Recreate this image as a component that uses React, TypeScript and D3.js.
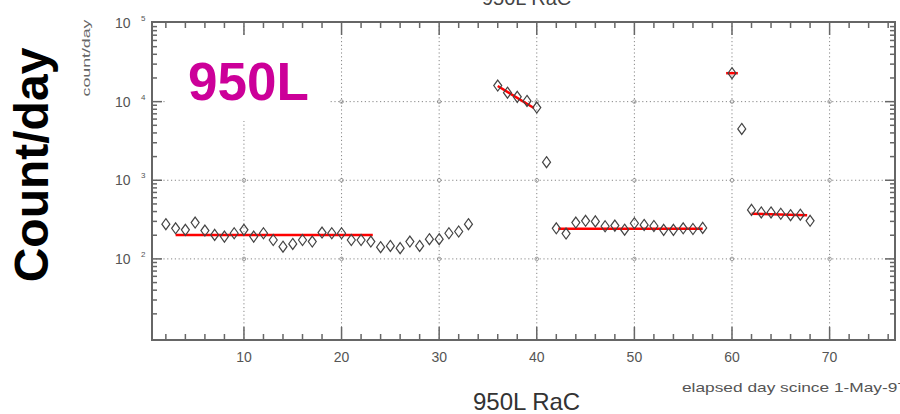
import React from "react";
import * as d3 from "d3";

// elapsed day since 1-May-97 and measured count/day
const days = [
  2, 3, 4, 5, 6, 7, 8, 9, 10, 11, 12, 13, 14, 15, 16, 17, 18, 19, 20, 21, 22, 23,
  24, 25, 26, 27, 28, 29, 30, 31, 32, 33,
  36, 37, 38, 39, 40,
  41,
  42, 43, 44, 45, 46, 47, 48, 49, 50, 51, 52, 53, 54, 55, 56, 57,
  60,
  61,
  62, 63, 64, 65, 66, 67, 68,
];
const counts = [
  276, 245, 234, 290, 229, 202, 192, 212, 234, 192, 212, 174, 143, 155, 174, 166,
  216, 212, 212, 174, 174, 166, 141, 146, 137, 166, 146, 178, 178, 212, 223, 276,
  16000, 13000, 11500, 10200, 8400,
  1700,
  245, 210, 290, 305, 300, 260, 265, 235, 284, 270, 262, 234, 234, 245, 240, 248,
  23000,
  4500,
  420, 390, 390, 375, 360, 365, 305,
];

// red fitted segments
const fitStart = [3, 36, 42.2, 59.4, 62];
const fitEnd = [23.2, 39.7, 57, 60.6, 67.7];
const fitStartVal = [202, 15800, 241, 23000, 375];
const fitEndVal = [202, 8300, 241, 23000, 358];

const xMajor = [10, 20, 30, 40, 50, 60, 70];
const yExponents = [2, 3, 4, 5];

const W = 900;
const H = 414;
const left = 152;
const right = 895;
const top = 22;
const bottom = 340;

const font = "'Liberation Sans', Arial, Helvetica, sans-serif";

export default function App() {
  const x = d3.scaleLinear().domain([0.58, 76.7]).range([left, right]);
  const y = d3.scaleLog().domain([9.3, 1.03e5]).range([bottom, top]);

  const xMinor = d3.range(2, 77, 2).filter((d) => d % 10 !== 0);
  const yMinor: number[] = [];
  [10, 100, 1000, 10000].forEach((dec) => {
    for (let k = 2; k <= 9; k++) yMinor.push(dec * k);
  });
  const yGrid = [1e2, 1e3, 1e4];

  const diamond = "M0,-5.5L4,0L0,5.5L-4,0Z";
  const axisColor = "#666";
  const gridColor = "#888";
  const labelColor = "#555";

  return (
    <svg
      width={W}
      height={H}
      style={{ position: "absolute", left: 0, top: 0, background: "#fff" }}
    >
      {/* grid */}
      <g stroke={gridColor} strokeWidth={1} strokeDasharray="1.2,2.6">
        {xMajor.map((d) => (
          <line key={"gx" + d} x1={x(d)} x2={x(d)} y1={top} y2={bottom} />
        ))}
        {yGrid.map((d) => (
          <line key={"gy" + d} x1={left} x2={right} y1={y(d)} y2={y(d)} />
        ))}
      </g>
      <g stroke={gridColor} strokeWidth={0.8} fill="none">
        {xMajor.map((a) =>
          yGrid.map((b) => (
            <circle key={"c" + a + "_" + b} cx={x(a)} cy={y(b)} r={1.8} />
          ))
        )}
      </g>

      {/* label box */}
      <rect x={165} y={36} width={163} height={85} fill="#fff" />
      <text
        x={188}
        y={100}
        fontFamily={font}
        fontWeight="bold"
        fontSize={53}
        fill="#cc0099"
      >
        950L
      </text>

      {/* frame */}
      <rect
        x={left}
        y={top}
        width={right - left}
        height={bottom - top}
        fill="none"
        stroke={axisColor}
        strokeWidth={2}
      />

      {/* ticks */}
      <g stroke={axisColor} strokeWidth={1.5}>
        {xMinor.map((d) => (
          <g key={"xm" + d}>
            <line x1={x(d)} x2={x(d)} y1={bottom} y2={bottom - 6} />
            <line x1={x(d)} x2={x(d)} y1={top} y2={top + 6} />
          </g>
        ))}
        {xMajor.map((d) => (
          <g key={"xM" + d}>
            <line x1={x(d)} x2={x(d)} y1={bottom} y2={bottom - 13} />
            <line x1={x(d)} x2={x(d)} y1={top} y2={top + 13} />
          </g>
        ))}
        {yMinor.map((d) => (
          <g key={"ym" + d}>
            <line x1={left} x2={left + 5} y1={y(d)} y2={y(d)} />
            <line x1={right} x2={right - 5} y1={y(d)} y2={y(d)} />
          </g>
        ))}
        {yGrid.map((d) => (
          <g key={"yM" + d}>
            <line x1={left} x2={left + 10} y1={y(d)} y2={y(d)} />
            <line x1={right} x2={right - 10} y1={y(d)} y2={y(d)} />
          </g>
        ))}
      </g>

      {/* x tick labels */}
      <g fontFamily={font} fontSize={14} fill={labelColor} textAnchor="middle">
        {xMajor.map((d) => (
          <text key={"xl" + d} x={x(d)} y={362}>
            {d}
          </text>
        ))}
      </g>

      {/* y tick labels */}
      <g fontFamily={font} fill={labelColor}>
        {yExponents.map((e) => (
          <g key={"yl" + e}>
            <text x={115} y={y(Math.pow(10, e)) + 5} fontSize={14}>
              10
            </text>
            <text x={141} y={y(Math.pow(10, e)) - 2} fontSize={8}>
              {e}
            </text>
          </g>
        ))}
      </g>

      {/* fitted lines */}
      <g stroke="#ff0000" strokeWidth={2.5}>
        {fitStart.map((s, i) => (
          <line
            key={"f" + i}
            x1={x(s)}
            x2={x(fitEnd[i])}
            y1={y(fitStartVal[i])}
            y2={y(fitEndVal[i])}
          />
        ))}
      </g>

      {/* data points */}
      <g fill="none" stroke="#444" strokeWidth={1.2}>
        {days.map((d, i) => (
          <path
            key={"p" + i}
            d={diamond}
            transform={`translate(${x(d)},${y(counts[i])})`}
          />
        ))}
      </g>

      {/* axis titles */}
      <text
        transform="translate(90,58) rotate(-90)"
        textAnchor="middle"
        fontFamily={font}
        fontSize={11}
        fill="#666"
        textLength={77}
        lengthAdjust="spacingAndGlyphs"
      >
        count/day
      </text>
      <text
        transform="translate(48,165) rotate(-90)"
        textAnchor="middle"
        fontFamily={font}
        fontWeight="bold"
        fontSize={48}
        fill="#000"
      >
        Count/day
      </text>
      <text x={482} y={5} fontFamily={font} fontSize={20} fill="#444">
        950L RaC
      </text>
      <text x={473} y={410} fontFamily={font} fontSize={24} fill="#333">
        950L RaC
      </text>
      <text
        x={682}
        y={392}
        fontFamily={font}
        fontSize={13}
        fill="#555"
        textLength={225}
        lengthAdjust="spacingAndGlyphs"
      >
        elapsed day scince 1-May-97
      </text>
    </svg>
  );
}
